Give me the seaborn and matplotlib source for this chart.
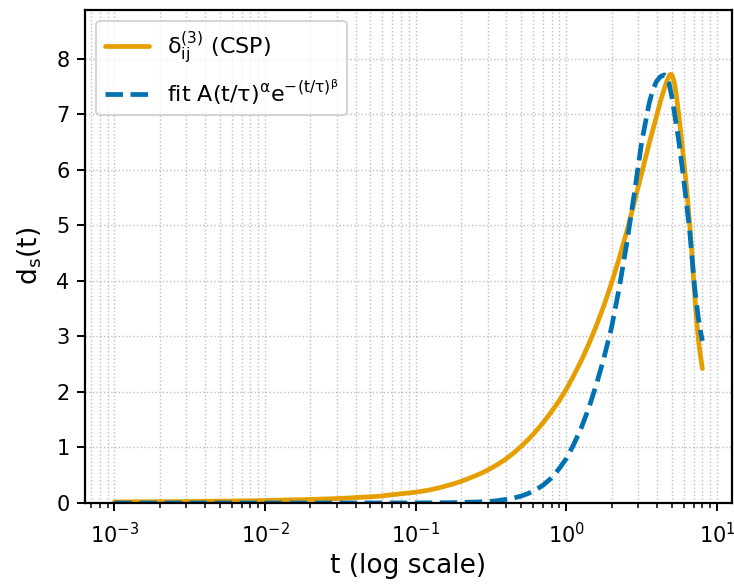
import matplotlib
matplotlib.use('Agg')
import matplotlib.pyplot as plt
import seaborn as sns

# CSP curve
t_csp = [0.001, 0.00178, 0.00316, 0.00562, 0.01, 0.0178, 0.0316, 0.0562, 0.1, 0.112,
         0.126, 0.141, 0.158, 0.178, 0.2, 0.224, 0.251, 0.282, 0.316, 0.355,
         0.398, 0.447, 0.501, 0.562, 0.631, 0.708, 0.794, 0.891, 1.0, 1.122,
         1.259, 1.413, 1.585, 1.778, 1.995, 2.239, 2.512, 2.818, 3.162, 3.548,
         3.981, 4.217, 4.467, 4.624, 4.786, 4.898, 5.012, 5.129, 5.248, 5.37,
         5.559, 5.754, 5.957, 6.166, 6.383, 6.607, 6.839, 7.079, 7.328, 7.586,
         7.816, 8.0]
d_csp = [0.02, 0.023, 0.027, 0.034, 0.045, 0.06, 0.082, 0.12, 0.195, 0.215,
         0.24, 0.27, 0.305, 0.345, 0.39, 0.44, 0.495, 0.555, 0.625, 0.705,
         0.795, 0.9, 1.02, 1.15, 1.3, 1.46, 1.64, 1.83, 2.05, 2.3,
         2.57, 2.87, 3.2, 3.56, 3.96, 4.4, 4.88, 5.4, 5.94, 6.48,
         6.98, 7.24, 7.46, 7.58, 7.68, 7.72, 7.71, 7.64, 7.52, 7.35,
         7.02, 6.66, 6.28, 5.9, 5.46, 4.98, 4.42, 3.82, 3.28, 2.86,
         2.6, 2.42]

# fit A(t/tau)^alpha exp(-(t/tau)^beta)
t_fit = [0.001, 0.01, 0.0316, 0.1, 0.178, 0.251, 0.316, 0.355, 0.398, 0.447,
         0.501, 0.562, 0.631, 0.708, 0.794, 0.891, 1.0, 1.122, 1.259, 1.413,
         1.585, 1.778, 1.995, 2.239, 2.512, 2.818, 3.162, 3.548, 3.758, 3.981,
         4.217, 4.467, 4.624, 4.786, 5.012, 5.2, 5.559, 5.902, 6.31, 6.607,
         6.839, 7.096, 7.499, 7.762, 8.0]
d_fit = [0.0, 0.0, 0.0005, 0.002, 0.007, 0.018, 0.03, 0.045, 0.065, 0.09,
         0.125, 0.175, 0.24, 0.33, 0.45, 0.61, 0.8, 1.06, 1.36, 1.72,
         2.14, 2.62, 3.16, 3.86, 4.66, 5.55, 6.5, 7.2, 7.45, 7.6,
         7.68, 7.71, 7.68, 7.58, 7.32, 7.05, 6.55, 6.0, 5.35, 4.86,
         4.4, 3.89, 3.35, 3.1, 2.92]

sns.set_theme(style='ticks')
plt.rcParams['font.family'] = ['DejaVu Sans']
plt.rcParams['mathtext.default'] = 'regular'
plt.rcParams['text.color'] = 'black'
plt.rcParams['axes.labelcolor'] = 'black'
plt.rcParams['xtick.color'] = 'black'
plt.rcParams['ytick.color'] = 'black'

fig = plt.figure(figsize=(7.34, 5.84), dpi=100)
ax = fig.add_axes([0.1158, 0.1387, 0.8812, 0.8443])

sns.lineplot(x=t_csp, y=d_csp, ax=ax, color='#E69F00', lw=3.4,
             label=r'$\delta_{ij}^{(3)}$ (CSP)')
sns.lineplot(x=t_fit, y=d_fit, ax=ax, color='#0072B2', lw=3.4, ls='--',
             label=r'fit $A(t/\tau)^{\alpha}e^{-(t/\tau)^{\beta}}$')

ax.set_xscale('log')
ax.set_ylim(0, 8.88)
ax.set_xlabel('t (log scale)', fontsize=19, labelpad=4)
ax.set_ylabel(r'$d_s(t)$', fontsize=19, labelpad=9)
ax.tick_params(which='major', labelsize=15, length=6, width=1.4, pad=5)
ax.tick_params(which='minor', length=3.5, width=1.1)
ax.tick_params(axis='x', which='major', pad=8)
ax.grid(True, which='both', ls=':', color='0.75', lw=1)
for s in ax.spines.values():
    s.set_linewidth(1.6)
    s.set_color('black')

leg = ax.legend(loc='upper left', fontsize=16, frameon=True)
leg.get_frame().set_edgecolor('0.8')
leg.get_frame().set_linewidth(1.5)

fig.savefig('out.png', dpi=100)
